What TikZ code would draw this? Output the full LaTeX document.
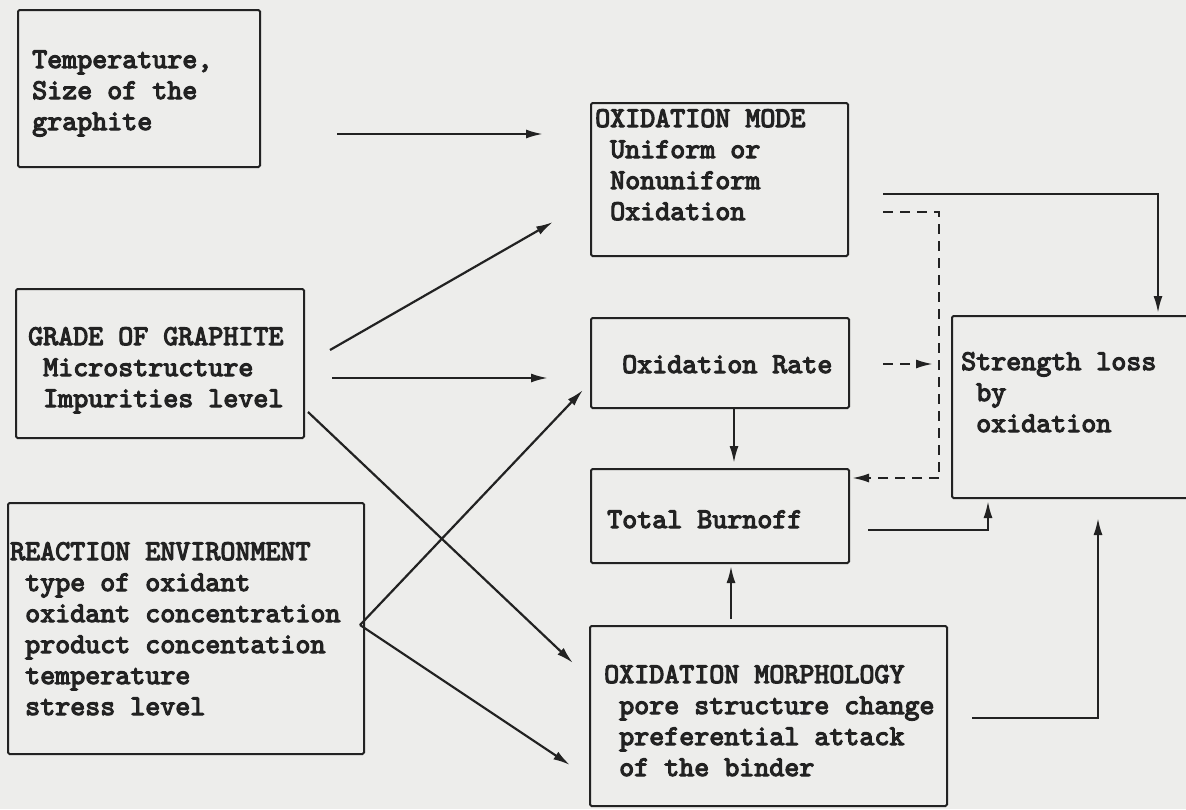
\documentclass[tikz,border=0pt]{standalone}
\usepackage{fontspec}
\newfontfamily\twfont{lmmono10-regular.otf}[FakeBold=4]
\usetikzlibrary{arrows.meta}
\definecolor{paper}{HTML}{EDEDEB}
\definecolor{ink}{HTML}{222222}
\tikzset{
  box/.style={draw=ink, line width=2pt, inner sep=0pt, anchor=north west, rounded corners=1.5pt},
  txt/.style={inner sep=0pt, anchor=base west, text=ink, font=\twfont\fontsize{28.6}{31}\selectfont},
  arr/.style={draw=ink, line width=2.2pt, -{Latex[length=17pt,width=9pt]}},
  dsh/.style={draw=ink, line width=2.2pt, dash pattern=on 10pt off 7pt},
  dsharr/.style={dsh, -{Latex[length=17pt,width=9pt]}}
}
\newcommand{\lns}[1]{\vtop{#1}}
\begin{document}
\begin{tikzpicture}[x=1pt,y=-1pt]
\useasboundingbox (0,0) rectangle (1186,809);
\fill[paper] (0,0) rectangle (1186,809);
% boxes
\node[box, minimum width=242pt, minimum height=157pt] (temp) at (17,9) {};
\node[box, minimum width=257pt, minimum height=153pt] (mode) at (590,102) {};
\node[box, minimum width=288pt, minimum height=149pt] (grade) at (15,288) {};
\node[box, minimum width=258pt, minimum height=90pt] (rate) at (590,317) {};
\node[box, minimum width=262pt, minimum height=182pt] (strength) at (951,315) {};
\node[box, minimum width=258pt, minimum height=94pt] (burn) at (590,468) {};
\node[box, minimum width=356pt, minimum height=251pt] (react) at (7,502) {};
\node[box, minimum width=357pt, minimum height=180pt] (morph) at (589,625) {};
% texts
\node[txt] (ttemp) at (32,68) {\lns{\hbox{Temperature,}\hbox{Size of the}\hbox{graphite}}};
\node[txt] (tmode) at (595,127) {\lns{\hbox{OXIDATION MODE}\hbox{\ Uniform or}\hbox{\ Nonuniform}\hbox{\ Oxidation}}};
\node[txt] (tgrade) at (28,345) {\lns{\hbox{GRADE OF GRAPHITE}\hbox{\ Microstructure}\hbox{\ Impurities level}}};
\node[txt] (trate) at (622,373) {Oxidation Rate};
\node[txt] (tstrength) at (961,370) {\lns{\hbox{Strength loss}\hbox{\ by}\hbox{\ oxidation}}};
\node[txt] (tburn) at (607,528) {Total Burnoff};
\node[txt] (treact) at (10,560) {\lns{\hbox{REACTION ENVIRONMENT}\hbox{\ type of oxidant}\hbox{\ oxidant concentration}\hbox{\ product concentation}\hbox{\ temperature}\hbox{\ stress level}}};
\node[txt] (tmorph) at (604,683) {\lns{\hbox{OXIDATION MORPHOLOGY}\hbox{\ pore structure change}\hbox{\ preferential attack}\hbox{\ of the binder}}};
% connector end points
\coordinate (a1s) at (337,134);  \coordinate (a1e) at (543,134);
\coordinate (a2s) at (330,350);  \coordinate (a2e) at (553,222);
\coordinate (a3s) at (332,378);  \coordinate (a3e) at (548,378);
\coordinate (a4s) at (308,412);  \coordinate (a4e) at (573,663);
\coordinate (rj)  at (360,625);
\coordinate (a5e) at (583,390);
\coordinate (a6e) at (570,765);
\coordinate (ms)  at (883,194);  \coordinate (mc) at (1158,194); \coordinate (me) at (1158,313);
\coordinate (ds)  at (883,212);  \coordinate (dc1) at (939,212); \coordinate (dc2) at (939,478); \coordinate (de) at (852,478);
\coordinate (rds) at (883,364);  \coordinate (rde) at (933,364);
\coordinate (bs)  at (868,530);  \coordinate (bc) at (988,530); \coordinate (be) at (988,501);
\coordinate (ps)  at (972,718);  \coordinate (pc) at (1098,718); \coordinate (pe) at (1098,518);
% connectors
\draw[arr] (a1s) -- (a1e);
\draw[arr] (a2s) -- (a2e);
\draw[arr] (a3s) -- (a3e);
\draw[arr] (a4s) -- (a4e);
\draw[arr] (rj) -- (a5e);
\draw[arr] (rj) -- (a6e);
\draw[arr] (ms) -- (mc) -- (me);
\draw[dsh] (ds) -- (dc1) -- (dc2);
\draw[dsharr] (dc2) -- (de);
\draw[dsharr] (rds) -- (rde);
\draw[arr] (rate.south -| 734,0) -- (734,463);
\draw[arr] (morph.north -| 731,0) ++(0,-6) -- (731,566);
\draw[arr] (bs) -- (bc) -- (be);
\draw[arr] (ps) -- (pc) -- (pe);
\end{tikzpicture}
\end{document}
